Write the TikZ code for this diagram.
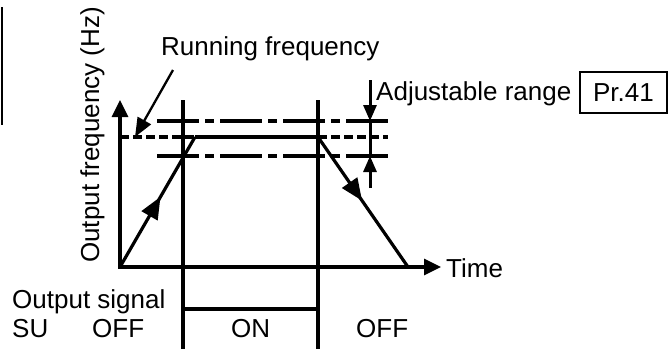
\documentclass[tikz,border=0pt]{standalone}
\usepackage{fontspec}
\setmainfont{Liberation Sans}
\usetikzlibrary{arrows.meta,decorations.markings}
\begin{document}
\begin{tikzpicture}[x=1pt,y=-1pt,
  lbl/.style={inner sep=0pt,font=\fontsize{26}{30}\selectfont},
  axisline/.style={line width=3.2pt,-{Triangle[length=17pt,width=16pt]}},
  mainline/.style={line width=3.2pt},
  rampline/.style={line width=3.2pt},
  dashdotline/.style={line width=3.2pt,dash pattern=on 42pt off 6pt on 9pt off 6pt},
  dashline/.style={line width=3.2pt,dash pattern=on 9pt off 4pt},
  midarrow/.style={postaction={decorate},decoration={markings,
      mark=at position #1 with {\arrow{Triangle[length=22pt,width=18pt]}}}},
  smallhead/.style={-{Triangle[length=16pt,width=13pt]}}]
\useasboundingbox (0,0) rectangle (670,349);
% coordinates
\coordinate (O) at (120,267);
\coordinate (Ytip) at (120,100);
\coordinate (Xtip) at (441,267);
\coordinate (A) at (195,137);
\coordinate (B) at (318,137);
\coordinate (C) at (408,267);
\coordinate (V1t) at (183,100);
\coordinate (V1b) at (183,349);
\coordinate (V2t) at (318,100);
\coordinate (V2b) at (318,349);
\coordinate (S1) at (183,309);
\coordinate (S2) at (318,309);
\coordinate (U1) at (157,121);
\coordinate (U2) at (388,121);
\coordinate (L1) at (157,156);
\coordinate (L2) at (388,156);
\coordinate (R1) at (120,137);
\coordinate (R2) at (388,137);
\coordinate (J0) at (370,80);
\coordinate (J1) at (370,121);
\coordinate (J2) at (370,156);
\coordinate (J3) at (370,188);
\coordinate (F1) at (135,137);
\coordinate (E1) at (2,7);
\coordinate (E2) at (2,125);
% edge line
\draw[line width=1.8pt] (E1) -- (E2);
% axes
\draw[axisline] ([xshift=-1.6pt]O) -- (Xtip);
\draw[axisline] (O) -- (Ytip);
% dash-dot limit lines
\draw[dashdotline] (U1) -- (U2);
\draw[dashdotline] (L1) -- (L2);
% running frequency dashed
\draw[dashline] (R1) -- (A);
\draw[dashline] (B) -- (R2);
% vertical lines
\draw[mainline] (V1t) -- (V1b);
\draw[mainline] (V2t) -- (V2b);
\draw[mainline] (S1) -- (S2);
% ramp
\draw[rampline,midarrow=0.54] (O) -- (A);
\draw[rampline] (A) -- (B);
\draw[rampline,midarrow=0.49] (B) -- (C);
% labels
\node[lbl,rotate=90,anchor=base west] (ylab) at (99,263) {Output frequency (Hz)};
\node[lbl,anchor=base west] (run) at (161,55) {Running frequency};
\node[lbl,anchor=base west] (adj) at (376,100) {Adjustable range};
\node[lbl,draw,line width=2.2pt,minimum width=87pt,minimum height=41pt] (pr) at (623.5,92.5) {Pr.41};
\node[lbl,anchor=base west] (time) at (446,277) {Time};
\node[lbl,anchor=base west] (osig) at (12,308) {Output signal};
\node[lbl,anchor=base west] (su) at (12,337) {SU};
\node[lbl,anchor=base west] (off1) at (92,337) {OFF};
\node[lbl,anchor=base west] (on) at (231,337) {ON};
\node[lbl,anchor=base west] (off2) at (356,337) {OFF};
% running frequency pointer
\draw[line width=2.3pt,-{Triangle[length=19pt,width=15pt]}] (173,70) -- (F1);
% adjustable range arrows
\draw[line width=3pt,smallhead] (J0) -- (J1);
\draw[line width=3pt] (J1) -- (J2);
\draw[line width=3pt,smallhead] (J3) -- (J2);
\end{tikzpicture}
\end{document}
